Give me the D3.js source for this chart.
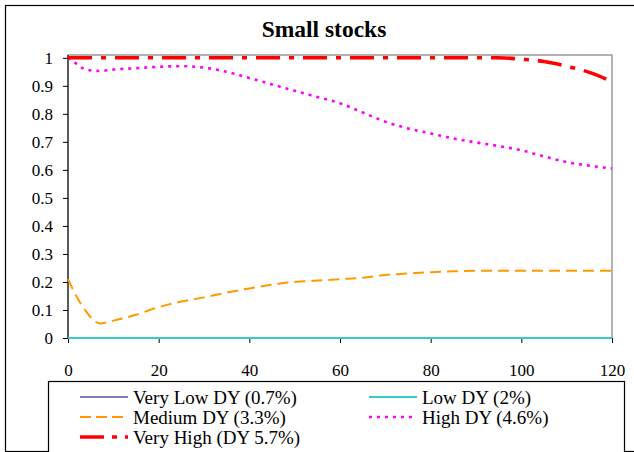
<!DOCTYPE html>
<html><head><meta charset="utf-8">
<script src="https://cdn.jsdelivr.net/npm/d3@7"></script>
<style>body{margin:0;background:#fff}svg{display:block}</style>
</head><body>
<svg id="c" width="634" height="452"></svg>
<script>
const title = "Small stocks";
const xTicks = [0,20,40,60,80,100,120];
const yTicks = [0,0.1,0.2,0.3,0.4,0.5,0.6,0.7,0.8,0.9,1];
const seriesNames = ["Very Low DY (0.7%)","Low DY (2%)","Medium DY (3.3%)","High DY (4.6%)","Very High (DY 5.7%)"];
const monthsA = [0,2,4,7,10,15,20,25,30,35,40,45,50,55,60,65,70,75,80,85,90,95,100,105,108,110,115,120];
const veryLow = monthsA.map(()=>0);
const low = monthsA.map(()=>0);
const medium = [0.21,0.145,0.095,0.052,0.062,0.083,0.11,0.13,0.145,0.162,0.177,0.19,0.2,0.205,0.21,0.215,0.225,0.23,0.235,0.238,0.24,0.24,0.24,0.24,0.24,0.24,0.24,0.24];
const monthsH = [0,1,3,5,7,10,15,20,25,30,35,40,45,50,55,60,65,70,75,80,85,90,95,100,105,110,115,120];
const high = [1.0,0.99,0.965,0.955,0.953,0.958,0.963,0.968,0.97,0.965,0.95,0.928,0.905,0.882,0.86,0.838,0.805,0.772,0.748,0.73,0.712,0.698,0.685,0.67,0.648,0.628,0.615,0.605];
const veryHigh = [1,1,1,1,1,1,1,1,1,1,1,1,1,1,1,1,1,1,1,1,1,1,0.995,0.987,0.978,0.97,0.948,0.915];

const FONT = '"Liberation Serif"';
const svg = d3.select("#c");
// outer frame
svg.append("rect").attr("x",5.5).attr("y",5.5).attr("width",640).attr("height",446)
  .attr("fill","none").attr("stroke","#000").attr("stroke-width",1.2);

const x = d3.scaleLinear().domain([0,120]).range([68,612]);
const y = d3.scaleLinear().domain([0,1]).range([338,57.8]);

// plot area border
svg.append("rect").attr("x",68).attr("y",55).attr("width",544).attr("height",283)
  .attr("fill","none").attr("stroke","#808080").attr("stroke-width",1.2);

svg.append("text").attr("x",324).attr("y",37).attr("text-anchor","middle")
  .style("font-family",FONT).style("font-weight","bold").style("font-size","23.5px").text(title);

const yAxis = svg.append("g").attr("transform","translate(68,0)")
  .call(d3.axisLeft(y).tickValues(yTicks).tickSize(5).tickPadding(10).tickFormat(d3.format("~g")));
yAxis.select(".domain").attr("d","M0,55V338").attr("stroke","#000");
yAxis.selectAll("text").style("font-family",FONT).style("font-size","17px").attr("fill","#000");

const xAxis = svg.append("g").attr("transform","translate(0,338)")
  .call(d3.axisBottom(x).tickValues(xTicks).tickSize(5).tickPadding(21).tickFormat(d3.format("d")));
xAxis.select(".domain").attr("stroke","#000");
xAxis.selectAll("text").style("font-family",FONT).style("font-size","17px").attr("fill","#000");

const styles = [
  {data:veryLow, months:monthsA, color:"#5050a0", w:1.3, dash:null},
  {data:low, months:monthsA, color:"#33cccc", w:1.8, dash:null},
  {data:medium, months:monthsA, color:"#ff9900", w:2, dash:"11,6"},
  {data:high, months:monthsH, color:"#ff00ff", w:2.6, dash:"3,5"},
  {data:veryHigh, months:monthsA, color:"#ff0000", w:3.6, dash:"24,9,5,9"}
];
const line = d3.line().curve(d3.curveMonotoneX);
styles.forEach(s=>{
  svg.append("path").attr("d", line(s.months.map((m,i)=>[x(m),y(s.data[i])])))
    .attr("fill","none").attr("stroke",s.color).attr("stroke-width",s.w)
    .attr("stroke-dasharray",s.dash);
});

// legend
svg.append("rect").attr("x",48.5).attr("y",381.5).attr("width",576).attr("height",72)
  .attr("fill","#fff").attr("stroke","#000").attr("stroke-width",1.2);
const legPos = [[80,397],[369,397],[80,417],[369,417],[80,437]];
const legDash = [null,null,"11,5","3,5","24,8,5,8"];
styles.forEach((s,i)=>{
  const [lx,ly]=legPos[i];
  svg.append("line").attr("x1",lx).attr("x2",lx+48).attr("y1",ly).attr("y2",ly)
    .attr("stroke",s.color).attr("stroke-width",s.w).attr("stroke-dasharray",legDash[i]);
  svg.append("text").attr("x",lx+53).attr("y",ly+7)
    .style("font-family",FONT).style("font-size","19px").attr("fill","#000").text(seriesNames[i]);
});
</script>
</body></html>
